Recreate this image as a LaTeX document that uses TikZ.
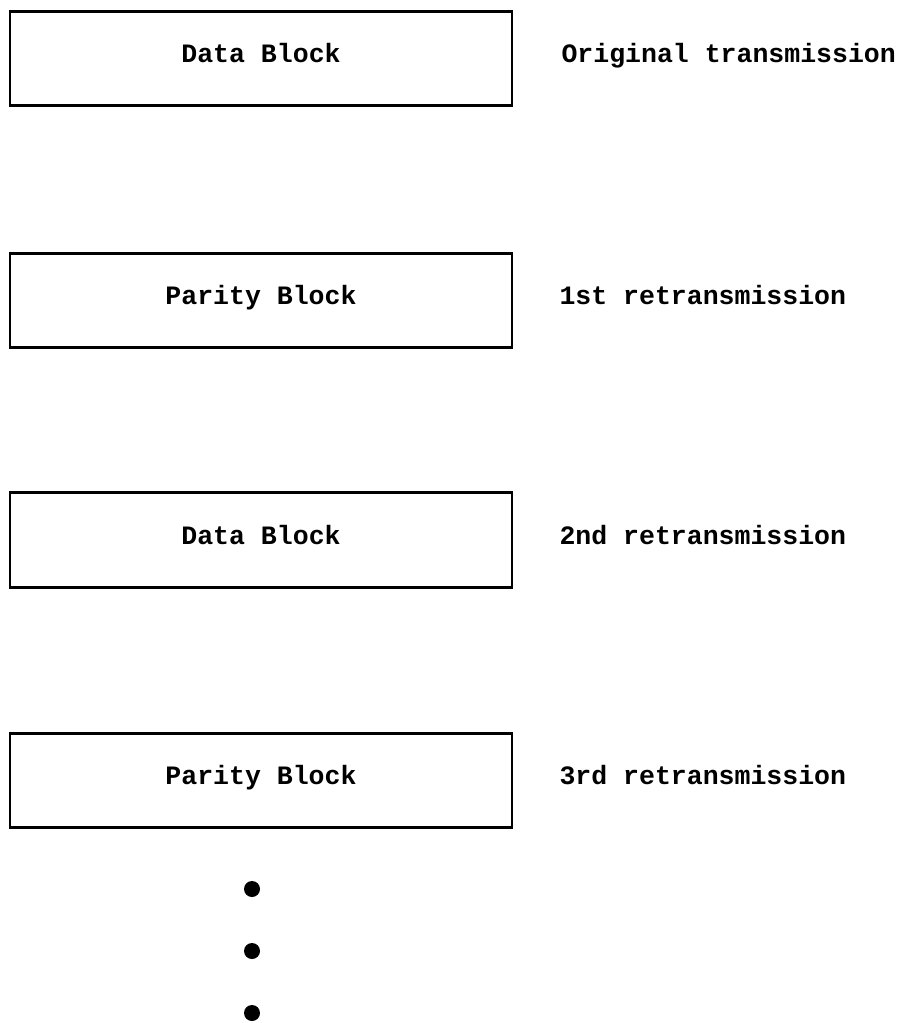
\documentclass[tikz,border=0pt]{standalone}
\usepackage{fontspec}
\setmainfont{Liberation Mono}
\usetikzlibrary{positioning}

\tikzset{every picture/.style={line width=0.75pt}}
\tikzset{
  blockbox/.style={draw, line width=2.2pt, minimum width=376.5pt, minimum height=71pt, inner sep=0pt,
    font=\fontsize{19.9}{24}\bfseries\selectfont, text height=1.45ex, text depth=0.25ex},
  passlabel/.style={anchor=west, inner sep=0pt,
    font=\fontsize{19.9}{24}\bfseries\selectfont, text height=1.45ex, text depth=0.25ex},
  moredot/.style={circle, fill=black, inner sep=0pt, minimum size=12pt}
}

\begin{document}
\begin{tikzpicture}[x=0.75pt,y=0.75pt,yscale=-1,xscale=1]
	%set diagram size 908 x 1023
	\useasboundingbox (0,0) rectangle (908,1023);

	%Shape: Rectangle [id:blk1]
	\node [blockbox] (data1) at (261,58.5) {Data Block};
	%Shape: Rectangle [id:blk2]
	\node [blockbox] (parity1) at (261,300.5) {Parity Block};
	%Shape: Rectangle [id:blk3]
	\node [blockbox] (data2) at (261,540) {Data Block};
	%Shape: Rectangle [id:blk4]
	\node [blockbox] (parity2) at (261,780.5) {Parity Block};

	% Text Node
	\node [passlabel] (orig) at (561,58.5) {Original transmission};
	% Text Node
	\node [passlabel] (retx1) at (559,300.5) {1st retransmission};
	% Text Node
	\node [passlabel] (retx2) at (559,540) {2nd retransmission};
	% Text Node
	\node [passlabel] (retx3) at (559,780.5) {3rd retransmission};

	%Shape: Circle [id:dots]
	\node [moredot] (dotA) at (252,889) {};
	\node [moredot] (dotB) at (252,951) {};
	\node [moredot] (dotC) at (252,1013) {};

\end{tikzpicture}
\end{document}
